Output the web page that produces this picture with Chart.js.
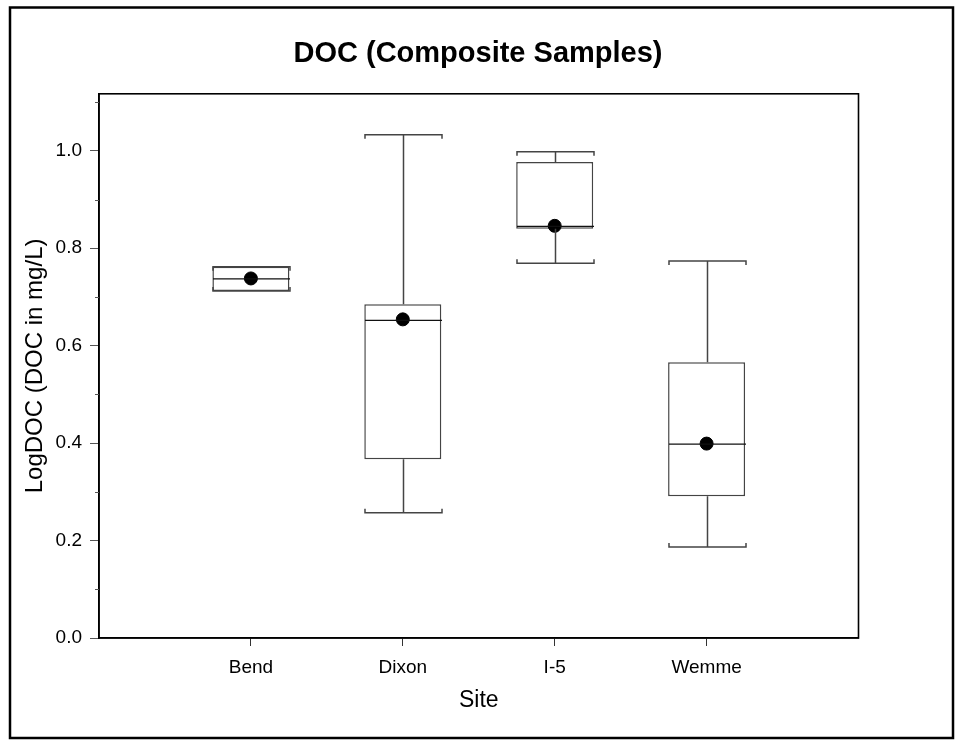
<!DOCTYPE html>
<html>
<head>
<meta charset="utf-8">
<title>DOC (Composite Samples)</title>
<script src="https://cdn.jsdelivr.net/npm/chart.js@4.4.1/dist/chart.umd.min.js"></script>
<style>
  html, body { margin: 0; padding: 0; background: #fff; }
  #wrap { position: relative; width: 956px; height: 746px; }
</style>
</head>
<body>
<div id="wrap"><canvas id="chart" width="956" height="746"></canvas></div>
<script>
// Box plot values (log10 of DOC in mg/L)
const sites = ['Bend', 'Dixon', 'I-5', 'Wemme'];
const sitePos = [1, 2, 3, 4];
const whiskerLow = [0.712, 0.257, 0.769, 0.187];
const q1 = [0.712, 0.367, 0.840, 0.291];
const median = [0.737, 0.652, 0.845, 0.398];
const q3 = [0.762, 0.685, 0.977, 0.566];
const whiskerHigh = [0.762, 1.033, 0.998, 0.774];
const means = [0.738, 0.654, 0.846, 0.399];
const minorTicks = [0.1, 0.3, 0.5, 0.7, 0.9, 1.1];

Chart.defaults.font.family = '"Liberation Sans", Arial, sans-serif';
Chart.defaults.color = '#000';

// whiskers, caps and median lines, placed with the chart's scales
const boxExtras = {
  id: 'boxExtras',
  afterDatasetsDraw(chart) {
    const { ctx, scales: { x, y } } = chart;
    const half = (x.getPixelForValue(1.2535) - x.getPixelForValue(1));
    ctx.save();
    sitePos.forEach((pos, i) => {
      const cx = Math.round(x.getPixelForValue(pos)) + 0.5;
      const l = cx - half, r = cx + half;
      const yLo = y.getPixelForValue(whiskerLow[i]);
      const yHi = y.getPixelForValue(whiskerHigh[i]);
      const yQ1 = y.getPixelForValue(q1[i]);
      const yQ3 = y.getPixelForValue(q3[i]);
      const yMed = y.getPixelForValue(median[i]);

      ctx.strokeStyle = '#444';
      ctx.lineWidth = 1.5;
      ctx.beginPath();
      // whisker stems
      ctx.moveTo(cx, yQ3); ctx.lineTo(cx, yHi);
      ctx.moveTo(cx, yQ1); ctx.lineTo(cx, yLo);
      // caps with little end marks
      ctx.moveTo(l, yHi + 4); ctx.lineTo(l, yHi); ctx.lineTo(r, yHi); ctx.lineTo(r, yHi + 4);
      ctx.moveTo(l, yLo - 4); ctx.lineTo(l, yLo); ctx.lineTo(r, yLo); ctx.lineTo(r, yLo - 4);
      ctx.stroke();

      ctx.strokeStyle = '#111';
      ctx.lineWidth = 1.2;
      ctx.beginPath();
      ctx.moveTo(l, yMed); ctx.lineTo(r, yMed);
      ctx.stroke();
    });
    ctx.restore();
  }
};

// frame, minor ticks and outer border
const frame = {
  id: 'frame',
  afterDraw(chart) {
    const { ctx, chartArea: a, scales: { y } } = chart;
    ctx.save();
    ctx.strokeStyle = '#000';
    ctx.lineWidth = 1.6;
    ctx.strokeRect(a.left, a.top, a.right - a.left, a.bottom - a.top);

    ctx.strokeStyle = '#555';
    ctx.lineWidth = 1;
    ctx.beginPath();
    minorTicks.forEach(v => {
      const py = Math.round(y.getPixelForValue(v)) + 0.5;
      ctx.moveTo(a.left - 4, py);
      ctx.lineTo(a.left, py);
    });
    ctx.stroke();

    ctx.strokeStyle = '#000';
    ctx.lineWidth = 2.5;
    ctx.strokeRect(10, 7.5, 943, 730.5);
    ctx.restore();
  }
};

new Chart(document.getElementById('chart'), {
  type: 'bar',
  data: {
    datasets: [
      {
        type: 'scatter',
        label: 'Mean',
        data: sitePos.map((p, i) => ({ x: p, y: means[i] })),
        pointRadius: 6.5,
        pointHoverRadius: 6.5,
        pointBackgroundColor: '#000',
        pointBorderColor: '#000',
        order: 0
      },
      {
        type: 'bar',
        label: 'Box',
        data: sitePos.map((p, i) => ({ x: p, y: [q1[i], q3[i]] })),
        backgroundColor: '#fff',
        borderColor: '#444',
        borderWidth: 1.5,
        borderSkipped: false,
        barPercentage: 0.507,
        categoryPercentage: 1,
        order: 1
      }
    ]
  },
  options: {
    responsive: false,
    animation: false,
    layout: { padding: 0 },
    plugins: {
      legend: { display: false },
      tooltip: { enabled: false },
      title: {
        display: true,
        text: 'DOC (Composite Samples)',
        font: { size: 29, weight: 'bold' },
        color: '#000',
        padding: { top: 37, bottom: 22 }
      }
    },
    scales: {
      x: {
        type: 'linear',
        min: 0,
        max: 5,
        offset: false,
        afterFit(scale) { scale.height = 108; },
        border: { display: true, color: '#000', width: 1.6 },
        grid: {
          offset: false,
          drawOnChartArea: false,
          drawTicks: true,
          tickLength: 8,
          tickColor: c => (c.tick && c.tick.value >= 1 && c.tick.value <= 4) ? '#333' : 'rgba(0,0,0,0)'
        },
        ticks: {
          stepSize: 1,
          padding: 10,
          font: { size: 19 },
          color: '#000',
          callback: v => sites[v - 1] || ''
        },
        title: {
          display: true,
          text: 'Site',
          font: { size: 23 },
          color: '#000',
          padding: { top: 0, bottom: 32 }
        }
      },
      y: {
        type: 'linear',
        min: 0,
        max: 1.117,
        afterFit(scale) { scale.width = 99; },
        border: { display: true, color: '#000', width: 1.6 },
        grid: {
          drawOnChartArea: false,
          drawTicks: true,
          tickLength: 9,
          tickColor: '#555'
        },
        ticks: {
          stepSize: 0.2,
          includeBounds: false,
          padding: 8,
          font: { size: 19 },
          color: '#000',
          callback: v => v.toFixed(1)
        },
        title: {
          display: true,
          text: 'LogDOC (DOC in mg/L)',
          font: { size: 24 },
          color: '#000',
          padding: { top: 21, bottom: 0 }
        }
      },
      // empty right-hand axis keeping the white margin right of the plot
      yRight: {
        type: 'linear',
        position: 'right',
        display: true,
        afterFit(scale) { scale.width = 97.5; },
        border: { display: false },
        grid: { display: false },
        ticks: { display: false }
      }
    }
  },
  plugins: [boxExtras, frame]
});
</script>
</body>
</html>
